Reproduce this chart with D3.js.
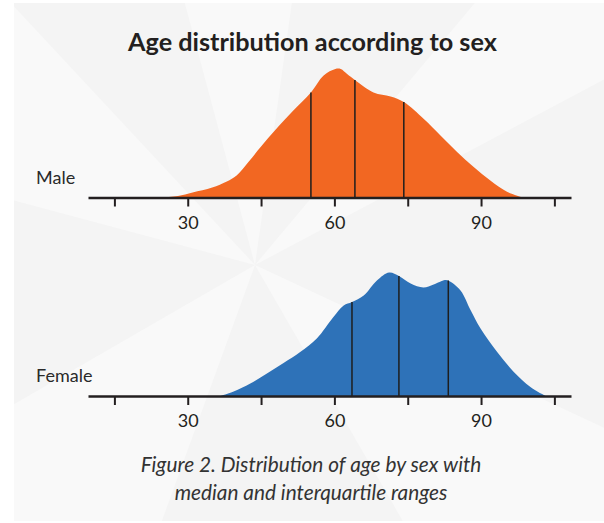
<!DOCTYPE html>
<html>
<head>
<meta charset="utf-8">
<script src="https://cdn.jsdelivr.net/npm/d3@7"></script>
<style>
  body { margin: 0; background: #fff; }
  svg { display: block; }
  text { font-family: Lato, "Noto Sans", sans-serif; fill: #231f20; }
</style>
</head>
<body>
<div id="chart"></div>
<script>
var width = 604,
    height = 523;

// data
var title = 'Age distribution according to sex';
var caption = ['Figure 2. Distribution of age by sex with', 'median and interquartile ranges'];
var sexes = ['Male', 'Female'];
var colors = ['#f26722', '#2e72b8'];
var age_ticks = [15, 30, 45, 60, 75, 90, 105];
var age_labels = [30, 60, 90];

// [age, density %]
var male_density = [
  [25, 0], [28, 0.03], [31, 0.10], [35, 0.20], [38, 0.32], [40, 0.44],
  [42.5, 0.72], [45, 1.02], [48, 1.36], [51.6, 1.74], [55.2, 2.10],
  [57.8, 2.44], [60.2, 2.57], [61.3, 2.57], [62.6, 2.47], [64.2, 2.35],
  [68, 2.10], [71.5, 2.02], [74.2, 1.91], [78.3, 1.57], [81.7, 1.24],
  [85.1, 0.91], [88.5, 0.61], [91.9, 0.34], [95.4, 0.11], [98.5, 0]
];
var female_density = [
  [36.7, 0], [39.4, 0.09], [42.8, 0.25], [46.2, 0.45], [49.6, 0.66],
  [53, 0.88], [56.4, 1.15], [59.8, 1.58], [61.9, 1.81], [63.6, 1.88],
  [66, 2.01], [68.7, 2.31], [71.2, 2.47], [73.2, 2.40], [75.6, 2.25],
  [78.2, 2.17], [80.3, 2.23], [82.6, 2.32], [83.3, 2.31], [85.8, 2.11],
  [87.9, 1.71], [89.9, 1.35], [93.3, 0.88], [96.7, 0.48], [100.1, 0.18],
  [103.2, 0]
];
var male_quartiles = [55.2, 64.2, 74.2];
var female_quartiles = [63.6, 73.2, 83.3];

var densities = [male_density, female_density],
    quartiles = [male_quartiles, female_quartiles];

var svg = d3.select('#chart').append('svg')
    .attr('width', width)
    .attr('height', height);

// background panel with faint rays
var bg = svg.append('g').attr('class', 'background');
bg.append('rect')
    .attr('x', 14).attr('y', 3)
    .attr('width', width - 14).attr('height', height - 5)
    .attr('fill', '#f4f4f4');
var ray_centre = [255, 265],
    ray_wedges = [[-165, -133], [-105, -82], [-50, -28], [25, 60], [110, 150]];
var clip = bg.append('clipPath').attr('id', 'panel-clip');
clip.append('rect').attr('x', 14).attr('y', 3)
    .attr('width', width - 14).attr('height', height - 5);
bg.append('g').attr('clip-path', 'url(#panel-clip)')
  .selectAll('path')
    .data(ray_wedges)
    .enter().append('path')
    .attr('fill', '#f9f9f9')
    .attr('d', function(d) {
        var r = 900,
            a0 = d[0] * Math.PI / 180,
            a1 = d[1] * Math.PI / 180;
        return 'M' + ray_centre + 'L' + [ray_centre[0] + r * Math.cos(a0), ray_centre[1] + r * Math.sin(a0)] +
               'L' + [ray_centre[0] + r * Math.cos(a1), ray_centre[1] + r * Math.sin(a1)] + 'Z';
    });

// scales
var x = d3.scaleLinear().domain([9.6, 108.4]).range([88, 571]),
    row = d3.scalePoint().domain(sexes).range([197.5, 396]),
    y = d3.scaleLinear().domain([0, 3]).range([0, -150]);

var area = d3.area()
    .x(function(d) { return x(d[0]); })
    .y0(0)
    .y1(function(d) { return y(d[1]); })
    .curve(d3.curveCatmullRom.alpha(0.5));
var line = d3.line()
    .x(function(d) { return x(d[0]); })
    .y(function(d) { return y(d[1]); })
    .curve(d3.curveCatmullRom.alpha(0.5));

var rows = svg.selectAll('g.row')
    .data(sexes)
    .enter().append('g')
    .attr('class', 'row')
    .attr('transform', function(d) { return 'translate(0,' + row(d) + ')'; });

rows.append('path')
    .attr('fill', function(d, i) { return colors[i]; })
    .attr('d', function(d, i) { return area(densities[i]); });

// top edge of a curve at a given age, found along the drawn path
function curve_top(path, age) {
    var px = x(age), len = path.getTotalLength(), lo = 0, hi = len, p;
    for (var k = 0; k < 40; k++) {
        var mid = (lo + hi) / 2;
        p = path.getPointAtLength(mid);
        if (p.x < px) lo = mid; else hi = mid;
    }
    return p.y;
}

rows.each(function(sex, i) {
    var g = d3.select(this);
    var guide = g.append('path')
        .attr('d', line(densities[i]))
        .attr('fill', 'none').attr('stroke', 'none');
    g.selectAll('line.quartile')
        .data(quartiles[i])
        .enter().append('line')
        .attr('class', 'quartile')
        .attr('x1', function(d) { return x(d); })
        .attr('x2', function(d) { return x(d); })
        .attr('y1', 0)
        .attr('y2', function(d) { return curve_top(guide.node(), d); })
        .attr('stroke', '#1e1e1e')
        .attr('stroke-width', 1.5);

    var axis = d3.axisBottom(x)
        .tickValues(age_ticks)
        .tickSize(9)
        .tickSizeOuter(0)
        .tickFormat(function(d) { return age_labels.indexOf(d) >= 0 ? d : ''; });
    var ax = g.append('g').attr('class', 'axis').call(axis);
    ax.select('.domain').attr('stroke', '#231f20').attr('stroke-width', 2.6);
    ax.selectAll('.tick line').attr('stroke', '#231f20').attr('stroke-width', 2);
    ax.selectAll('.tick text')
        .attr('y', 31).attr('dy', 0)
        .style('font-family', 'Lato, sans-serif')
        .style('font-size', '18px')
        .attr('fill', '#2a2a2a');

    g.append('text')
        .attr('x', 36).attr('y', -14)
        .style('font-size', '18px')
        .style('fill', '#2a2a2a')
        .text(sex);
});

// title, fitted to the reference width
var t = svg.append('text')
    .attr('x', 312.5).attr('y', 51)
    .attr('text-anchor', 'middle')
    .style('font-weight', 'bold')
    .style('font-size', '24px')
    .text(title);
var tw = t.node().getComputedTextLength();
t.style('font-size', (24 * 369 / tw) + 'px');

var cap = svg.selectAll('text.caption')
    .data(caption)
    .enter().append('text')
    .attr('class', 'caption')
    .attr('x', 311)
    .attr('y', function(d, i) { return 472 + i * 28; })
    .attr('text-anchor', 'middle')
    .style('font-style', 'italic')
    .style('font-size', '18px')
    .style('fill', '#333')
    .text(function(d) { return d; });
var cw = cap.node().getComputedTextLength();
cap.style('font-size', (18 * 341 / cw) + 'px');
</script>
</body>
</html>
